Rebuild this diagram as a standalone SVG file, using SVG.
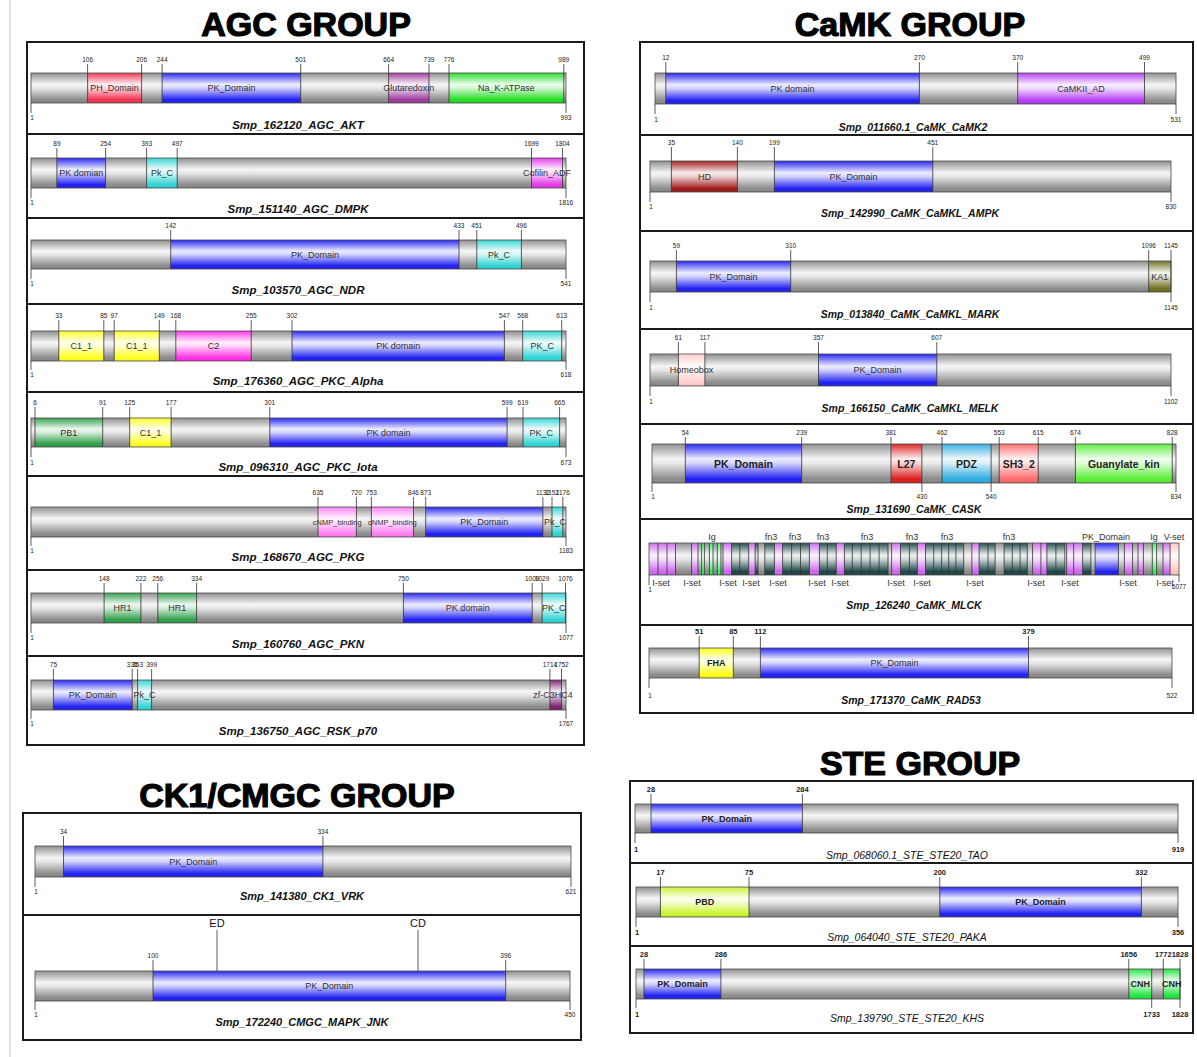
<svg xmlns="http://www.w3.org/2000/svg" width="1197" height="1057" viewBox="0 0 1197 1057">
<defs>
<linearGradient id="sh" x1="0" y1="0" x2="0" y2="1">
<stop offset="0" stop-color="#fff" stop-opacity="0.05"/>
<stop offset="0.38" stop-color="#fff" stop-opacity="0.92"/>
<stop offset="0.5" stop-color="#fff" stop-opacity="0.8"/>
<stop offset="0.9" stop-color="#fff" stop-opacity="0"/>
<stop offset="1" stop-color="#000" stop-opacity="0.12"/>
</linearGradient>
</defs>
<style>
text{font-family:"Liberation Sans",Arial,sans-serif}
.t{font-size:34px;font-weight:bold;text-anchor:middle;fill:#000;stroke:#000;stroke-width:1.2}
.n{font-size:6.5px;text-anchor:middle;fill:#222}
.n2{font-size:7.5px;font-weight:bold;text-anchor:middle;fill:#222}
.d{font-size:9px;text-anchor:middle;fill:#333}
.ds{font-size:7.5px;text-anchor:middle;fill:#333}
.db{font-size:9px;font-weight:bold;text-anchor:middle;fill:#222}
.dc{font-size:10.5px;font-weight:bold;text-anchor:middle;fill:#222}
.ec{font-size:11px;text-anchor:middle;fill:#111}
.nm{font-size:11.5px;font-weight:bold;font-style:italic;text-anchor:middle;fill:#111}
.nm2{font-size:10.5px;font-weight:bold;font-style:italic;text-anchor:middle;fill:#111}
.nm3{font-size:10.5px;font-style:italic;text-anchor:middle;fill:#111}
.bx{fill:none;stroke:#1a1a1a;stroke-width:2}
.bb{fill:#8a8a8a}
.sh{fill:url(#sh)}
.ol{fill:none;stroke:#4a4a4a;stroke-width:.8}
.tk{fill:none;stroke:#333;stroke-width:.8}
.pk{fill:#1e1ef2}.cy{fill:#2ed3d3}.ye{fill:#ffff1e}.mg{fill:#ff2de6}.pn{fill:#ff7df2}
.ph{fill:#f2304e}.gl{fill:#9c389c}.nk{fill:#20dc20}.cf{fill:#e238e8}.gn{fill:#2c9e48}
.zf{fill:#7c1e6e}.ca{fill:#b43af4}.hd{fill:#a01818}.ka{fill:#6e6e1e}.hx{fill:#ffcccc}
.l27{fill:#dc1e1e}.pdz{fill:#2eace0}.sh3{fill:#ff6a6a}.guk{fill:#58ee36}.fha{fill:#ffff10}
.pbd{fill:#cbf52e}.cnh{fill:#1ee43c}.is{fill:#cc66ee}.fn{fill:#1c4444}.ig{fill:#2cf05c}.vs{fill:#ffc4c4}
</style>
<rect width="1197" height="1057" fill="#fff"/>
<line x1="10" y1="0" x2="10" y2="1057" stroke="#c4c4c4" stroke-width="1"/>

<!-- Titles -->
<text class="t" x="306" y="36">AGC GROUP</text>
<text class="t" x="910" y="36">CaMK GROUP</text>
<text class="t" x="297" y="807">CK1/CMGC GROUP</text>
<text class="t" x="920" y="775">STE GROUP</text>

<!-- ================= AGC ================= -->
<g id="agc-box">
<rect class="bx" x="27" y="42" width="557" height="703"/>
<path class="bx" d="M27 134H584M27 218H584M27 304H584M27 392H584M27 476H584M27 570H584M27 656H584"/>
</g>

<g id="agc-akt">
<rect class="bb" x="31" y="73" width="535" height="30"/>
<rect class="ph" x="87.6" y="73" width="54" height="30"/>
<rect class="pk" x="162.1" y="73" width="138.6" height="30"/>
<rect class="gl" x="388.6" y="73" width="40.4" height="30"/>
<rect class="nk" x="449" y="73" width="114.8" height="30"/>
<rect class="sh" x="31" y="73" width="535" height="30"/>
<rect class="ol" x="31" y="73" width="535" height="30"/>
<path class="tk" d="M87.6 64V103M141.6 64V103M162.1 64V103M300.7 64V103M388.6 64V103M429 64V103M449 64V103M563.8 64V103M31 103V113M566 103V113"/>
<text class="n" x="87.6" y="62.3">106</text><text class="n" x="141.6" y="62.3">206</text><text class="n" x="162.1" y="62.3">244</text><text class="n" x="300.7" y="62.3">501</text><text class="n" x="388.6" y="62.3">664</text><text class="n" x="429" y="62.3">739</text><text class="n" x="449" y="62.3">776</text><text class="n" x="563.8" y="62.3">989</text>
<text class="n" x="32" y="120.3">1</text><text class="n" x="566" y="120.3">993</text>
<text class="d" x="114.6" y="91">PH_Domain</text><text class="d" x="231.4" y="91">PK_Domain</text><text class="d" x="408.8" y="91">Glutaredoxin</text><text class="d" x="506.4" y="91">Na_K-ATPase</text>
<text class="nm" x="298" y="129">Smp_162120_AGC_AKT</text>
</g>

<g id="agc-dmpk">
<rect class="bb" x="31" y="158" width="535" height="30"/>
<rect class="pk" x="56.9" y="158" width="48.7" height="30"/>
<rect class="cy" x="146.6" y="158" width="30.6" height="30"/>
<rect class="cf" x="531.5" y="158" width="31" height="30"/>
<rect class="sh" x="31" y="158" width="535" height="30"/>
<rect class="ol" x="31" y="158" width="535" height="30"/>
<path class="tk" d="M56.9 148V188M105.6 148V188M146.6 148V188M177.2 148V188M531.5 148V188M562.5 148V188M31 188V198M566 188V198"/>
<text class="n" x="56.9" y="146.3">89</text><text class="n" x="105.6" y="146.3">254</text><text class="n" x="146.6" y="146.3">393</text><text class="n" x="177.2" y="146.3">497</text><text class="n" x="531.5" y="146.3">1699</text><text class="n" x="562.5" y="146.3">1804</text>
<text class="n" x="32" y="205.3">1</text><text class="n" x="566" y="205.3">1816</text>
<text class="d" x="81.3" y="176">PK domian</text><text class="d" x="161.9" y="176">Pk_C</text><text class="d" x="547" y="176">Cofilin_ADF</text>
<text class="nm" x="298" y="213">Smp_151140_AGC_DMPK</text>
</g>

<g id="agc-ndr">
<rect class="bb" x="31" y="240" width="535" height="29"/>
<rect class="pk" x="170.7" y="240" width="288.3" height="29"/>
<rect class="cy" x="476.8" y="240" width="44.6" height="29"/>
<rect class="sh" x="31" y="240" width="535" height="29"/>
<rect class="ol" x="31" y="240" width="535" height="29"/>
<path class="tk" d="M170.7 230V269M459 230V269M476.8 230V269M521.4 230V269M31 269V279M566 269V279"/>
<text class="n" x="170.7" y="228.3">142</text><text class="n" x="459" y="228.3">433</text><text class="n" x="476.8" y="228.3">451</text><text class="n" x="521.4" y="228.3">496</text>
<text class="n" x="32" y="286.3">1</text><text class="n" x="566" y="286.3">541</text>
<text class="d" x="314.9" y="257.5">PK_Domain</text><text class="d" x="499.1" y="257.5">Pk_C</text>
<text class="nm" x="298" y="294">Smp_103570_AGC_NDR</text>
</g>

<g id="agc-pkc-alpha">
<rect class="bb" x="31" y="331" width="535" height="30"/>
<rect class="ye" x="58.8" y="331" width="45" height="30"/>
<rect class="ye" x="114.2" y="331" width="45.1" height="30"/>
<rect class="mg" x="175.8" y="331" width="75.4" height="30"/>
<rect class="pk" x="292" y="331" width="212.4" height="30"/>
<rect class="cy" x="522.7" y="331" width="39" height="30"/>
<rect class="sh" x="31" y="331" width="535" height="30"/>
<rect class="ol" x="31" y="331" width="535" height="30"/>
<path class="tk" d="M58.8 320V361M103.8 320V361M114.2 320V361M159.3 320V361M175.8 320V361M251.2 320V361M292 320V361M504.4 320V361M522.7 320V361M561.7 320V361M31 361V370M566 361V370"/>
<text class="n" x="58.8" y="318.3">33</text><text class="n" x="103.8" y="318.3">85</text><text class="n" x="114.2" y="318.3">97</text><text class="n" x="159.3" y="318.3">149</text><text class="n" x="175.8" y="318.3">168</text><text class="n" x="251.2" y="318.3">255</text><text class="n" x="292" y="318.3">302</text><text class="n" x="504.4" y="318.3">547</text><text class="n" x="522.7" y="318.3">568</text><text class="n" x="561.7" y="318.3">613</text>
<text class="n" x="32" y="377.3">1</text><text class="n" x="566" y="377.3">618</text>
<text class="d" x="81.3" y="349">C1_1</text><text class="d" x="136.8" y="349">C1_1</text><text class="d" x="213.5" y="349">C2</text><text class="d" x="398.2" y="349">PK domain</text><text class="d" x="542.2" y="349">PK_C</text>
<text class="nm" x="298" y="385">Smp_176360_AGC_PKC_Alpha</text>
</g>

<g id="agc-pkc-iota">
<rect class="bb" x="31" y="418" width="535" height="29"/>
<rect class="gn" x="35" y="418" width="67.7" height="29"/>
<rect class="ye" x="129.7" y="418" width="41.4" height="29"/>
<rect class="pk" x="269.8" y="418" width="237.3" height="29"/>
<rect class="cy" x="523" y="418" width="36.6" height="29"/>
<rect class="sh" x="31" y="418" width="535" height="29"/>
<rect class="ol" x="31" y="418" width="535" height="29"/>
<path class="tk" d="M35 407V447M102.7 407V447M129.7 407V447M171.1 407V447M269.8 407V447M507.1 407V447M523 407V447M559.6 407V447M31 447V457M566 447V457"/>
<text class="n" x="35" y="405.3">6</text><text class="n" x="102.7" y="405.3">91</text><text class="n" x="129.7" y="405.3">125</text><text class="n" x="171.1" y="405.3">177</text><text class="n" x="269.8" y="405.3">301</text><text class="n" x="507.1" y="405.3">599</text><text class="n" x="523" y="405.3">619</text><text class="n" x="559.6" y="405.3">665</text>
<text class="n" x="32" y="464.5">1</text><text class="n" x="566" y="464.5">673</text>
<text class="d" x="68.8" y="435.5">PB1</text><text class="d" x="150.4" y="435.5">C1_1</text><text class="d" x="388.5" y="435.5">PK domain</text><text class="d" x="541.3" y="435.5">PK_C</text>
<text class="nm" x="298" y="471">Smp_096310_AGC_PKC_Iota</text>
</g>

<g id="agc-pkg">
<rect class="bb" x="31" y="507" width="535" height="30"/>
<rect class="pn" x="318" y="507" width="38.4" height="30"/>
<rect class="pn" x="371.4" y="507" width="42.1" height="30"/>
<rect class="pk" x="425.7" y="507" width="117.2" height="30"/>
<rect class="cy" x="552" y="507" width="10.8" height="30"/>
<rect class="sh" x="31" y="507" width="535" height="30"/>
<rect class="ol" x="31" y="507" width="535" height="30"/>
<path class="tk" d="M318 497V537M356.4 497V537M371.4 497V537M413.5 497V537M425.7 497V537M542.9 497V537M552 497V537M562.8 497V537M31 537V546M566 537V546"/>
<text class="n" x="318" y="495.3">635</text><text class="n" x="356.4" y="495.3">720</text><text class="n" x="371.4" y="495.3">753</text><text class="n" x="413.5" y="495.3">846</text><text class="n" x="425.7" y="495.3">873</text><text class="n" x="542.9" y="495.3">1132</text><text class="n" x="552" y="495.3">1152</text><text class="n" x="562.8" y="495.3">1176</text>
<text class="n" x="32" y="553.3">1</text><text class="n" x="566" y="553.3">1183</text>
<text class="ds" x="337.2" y="524.5">cNMP_binding</text><text class="ds" x="392.4" y="524.5">cNMP_binding</text><text class="d" x="484.3" y="525">PK_Domain</text><text class="d" x="555" y="525">Pk_C</text>
<text class="nm" x="298" y="561">Smp_168670_AGC_PKG</text>
</g>

<g id="agc-pkn">
<rect class="bb" x="31" y="593" width="535" height="30"/>
<rect class="gn" x="104.1" y="593" width="36.8" height="30"/>
<rect class="gn" x="157.8" y="593" width="38.8" height="30"/>
<rect class="pk" x="403.4" y="593" width="128.8" height="30"/>
<rect class="cy" x="542.1" y="593" width="23.4" height="30"/>
<rect class="sh" x="31" y="593" width="535" height="30"/>
<rect class="ol" x="31" y="593" width="535" height="30"/>
<path class="tk" d="M104.1 583V623M140.9 583V623M157.8 583V623M196.6 583V623M403.4 583V623M532.2 583V623M542.1 583V623M565.5 583V623M31 623V633M566 623V633"/>
<text class="n" x="104.1" y="581.3">148</text><text class="n" x="140.9" y="581.3">222</text><text class="n" x="157.8" y="581.3">256</text><text class="n" x="196.6" y="581.3">334</text><text class="n" x="403.4" y="581.3">750</text><text class="n" x="532.2" y="581.3">1009</text><text class="n" x="542.1" y="581.3">1029</text><text class="n" x="565.5" y="581.3">1076</text>
<text class="n" x="32" y="640.3">1</text><text class="n" x="566" y="640.3">1077</text>
<text class="d" x="122.5" y="611">HR1</text><text class="d" x="177.2" y="611">HR1</text><text class="d" x="467.8" y="611">PK domain</text><text class="d" x="553.8" y="611">PK_C</text>
<text class="nm" x="298" y="648">Smp_160760_AGC_PKN</text>
</g>

<g id="agc-rsk-p70">
<rect class="bb" x="31" y="680" width="535" height="30"/>
<rect class="pk" x="53.4" y="680" width="78.8" height="30"/>
<rect class="cy" x="137.6" y="680" width="14" height="30"/>
<rect class="zf" x="549.9" y="680" width="11.6" height="30"/>
<rect class="sh" x="31" y="680" width="535" height="30"/>
<rect class="ol" x="31" y="680" width="535" height="30"/>
<path class="tk" d="M53.4 669V710M132.2 669V710M137.6 669V710M151.6 669V710M549.9 669V710M561.5 669V710M31 710V719M566 710V719"/>
<text class="n" x="53.4" y="667.3">75</text><text class="n" x="132.2" y="667.3">335</text><text class="n" x="137.6" y="667.3">353</text><text class="n" x="151.6" y="667.3">399</text><text class="n" x="549.9" y="667.3">1714</text><text class="n" x="561.5" y="667.3">1752</text>
<text class="n" x="32" y="726.3">1</text><text class="n" x="566" y="726.3">1767</text>
<text class="d" x="92.8" y="698">PK_Domain</text><text class="d" x="144.6" y="698">Pk_C</text><text class="d" x="553" y="698">zf-C3HC4</text>
<text class="nm" x="298" y="735">Smp_136750_AGC_RSK_p70</text>
</g>

<!-- ================= CaMK ================= -->
<g id="camk-box">
<rect class="bx" x="640" y="42" width="553" height="671"/>
<path class="bx" d="M640 135H1193M640 231H1193M640 329H1193M640 424H1193M640 519H1193M640 625H1193"/>
</g>

<g id="camk-camk2">
<rect class="bb" x="655" y="73" width="521" height="31"/>
<rect class="pk" x="665.8" y="73" width="253.6" height="31"/>
<rect class="ca" x="1017.7" y="73" width="126.8" height="31"/>
<rect class="sh" x="655" y="73" width="521" height="31"/>
<rect class="ol" x="655" y="73" width="521" height="31"/>
<path class="tk" d="M665.8 62V104M919.4 62V104M1017.7 62V104M1144.5 62V104M655 104V114M1176 104V114"/>
<text class="n" x="665.8" y="60.3">12</text><text class="n" x="919.4" y="60.3">270</text><text class="n" x="1017.7" y="60.3">370</text><text class="n" x="1144.5" y="60.3">499</text>
<text class="n" x="656" y="122.3">1</text><text class="n" x="1176" y="122.3">531</text>
<text class="d" x="792.6" y="91.5">PK domain</text><text class="d" x="1081.1" y="91.5">CaMKII_AD</text>
<text class="nm2" x="913" y="131">Smp_011660.1_CaMK_CaMK2</text>
</g>

<g id="camk-ampk">
<rect class="bb" x="650" y="161" width="521" height="31"/>
<rect class="hd" x="671.4" y="161" width="66" height="31"/>
<rect class="pk" x="774.4" y="161" width="158.4" height="31"/>
<rect class="sh" x="650" y="161" width="521" height="31"/>
<rect class="ol" x="650" y="161" width="521" height="31"/>
<path class="tk" d="M671.4 147V192M737.4 147V192M774.4 147V192M932.8 147V192M650 192V202M1171 192V202"/>
<text class="n" x="671.4" y="145.3">35</text><text class="n" x="737.4" y="145.3">140</text><text class="n" x="774.4" y="145.3">199</text><text class="n" x="932.8" y="145.3">451</text>
<text class="n" x="651" y="209.3">1</text><text class="n" x="1171" y="209.3">830</text>
<text class="d" x="704.4" y="179.5">HD</text><text class="d" x="853.6" y="179.5">PK_Domain</text>
<text class="nm2" x="910" y="217">Smp_142990_CaMK_CaMKL_AMPK</text>
</g>

<g id="camk-mark">
<rect class="bb" x="650" y="261" width="521" height="31"/>
<rect class="pk" x="676.4" y="261" width="114.3" height="31"/>
<rect class="ka" x="1148.7" y="261" width="22.3" height="31"/>
<rect class="sh" x="650" y="261" width="521" height="31"/>
<rect class="ol" x="650" y="261" width="521" height="31"/>
<path class="tk" d="M676.4 250V292M790.7 250V292M1148.7 250V292M1171 250V292M650 292V302M1171 292V302"/>
<text class="n" x="676.4" y="248.3">59</text><text class="n" x="790.7" y="248.3">310</text><text class="n" x="1148.7" y="248.3">1096</text><text class="n" x="1171" y="248.3">1145</text>
<text class="n" x="651" y="310.3">1</text><text class="n" x="1171" y="310.3">1145</text>
<text class="d" x="733.6" y="279.5">PK_Domain</text><text class="d" x="1159.8" y="279.5">KA1</text>
<text class="nm2" x="910" y="318">Smp_013840_CaMK_CaMKL_MARK</text>
</g>

<g id="camk-melk">
<rect class="bb" x="650" y="354" width="521" height="32"/>
<rect class="hx" x="678.4" y="354" width="26.5" height="32"/>
<rect class="pk" x="818.5" y="354" width="118.3" height="32"/>
<rect class="sh" x="650" y="354" width="521" height="32"/>
<rect class="ol" x="650" y="354" width="521" height="32"/>
<path class="tk" d="M678.4 342V386M704.9 342V386M818.5 342V386M936.8 342V386M650 386V396M1171 386V396"/>
<text class="n" x="678.4" y="340.3">61</text><text class="n" x="704.9" y="340.3">117</text><text class="n" x="818.5" y="340.3">357</text><text class="n" x="936.8" y="340.3">607</text>
<text class="n" x="651" y="404.3">1</text><text class="n" x="1171" y="404.3">1102</text>
<text class="d" x="691.6" y="373">Homeobox</text><text class="d" x="877.6" y="373">PK_Domain</text>
<text class="nm2" x="910" y="412">Smp_166150_CaMK_CaMKL_MELK</text>
</g>

<g id="camk-cask">
<rect class="bb" x="652" y="444" width="524" height="39"/>
<rect class="pk" x="685.3" y="444" width="116.4" height="39"/>
<rect class="l27" x="891" y="444" width="30.9" height="39"/>
<rect class="pdz" x="942" y="444" width="49.1" height="39"/>
<rect class="sh3" x="999.2" y="444" width="39" height="39"/>
<rect class="guk" x="1075.4" y="444" width="96.8" height="39"/>
<rect class="sh" x="652" y="444" width="524" height="39"/>
<rect class="ol" x="652" y="444" width="524" height="39"/>
<path class="tk" d="M685.3 437V483M801.7 437V483M891 437V483M942 437V483M999.2 437V483M1038.2 437V483M1075.4 437V483M1172.2 437V483M921.9 444V492M991.1 444V492M652 483V492M1176 483V492"/>
<text class="n" x="685.3" y="435.3">54</text><text class="n" x="801.7" y="435.3">239</text><text class="n" x="891" y="435.3">381</text><text class="n" x="942" y="435.3">462</text><text class="n" x="999.2" y="435.3">553</text><text class="n" x="1038.2" y="435.3">615</text><text class="n" x="1075.4" y="435.3">674</text><text class="n" x="1172.2" y="435.3">828</text>
<text class="n" x="653" y="499.3">1</text><text class="n" x="921.9" y="499.3">430</text><text class="n" x="991.1" y="499.3">540</text><text class="n" x="1176" y="499.3">834</text>
<text class="dc" x="743.5" y="467.5">PK_Domain</text><text class="dc" x="906.4" y="467.5">L27</text><text class="dc" x="966.5" y="467.5">PDZ</text><text class="dc" x="1018.7" y="467.5">SH3_2</text><text class="dc" x="1123.8" y="467.5">Guanylate_kin</text>
<text class="nm2" x="914" y="513">Smp_131690_CaMK_CASK</text>
</g>

<g id="camk-mlck">
<rect class="bb" x="649" y="543" width="530" height="32"/>
<g class="is">
<rect x="649" y="543" width="9" height="32"/><rect x="658" y="543" width="9" height="32"/><rect x="667" y="543" width="8.5" height="32"/><rect x="691.6" y="543" width="6.4" height="32"/><rect x="723" y="543" width="8.6" height="32"/><rect x="748.7" y="543" width="6.4" height="32"/><rect x="774.4" y="543" width="8.2" height="32"/><rect x="809.4" y="543" width="10" height="32"/><rect x="836.2" y="543" width="8.2" height="32"/><rect x="891.6" y="543" width="8.9" height="32"/><rect x="917.3" y="543" width="8.2" height="32"/><rect x="971.9" y="543" width="7.2" height="32"/><rect x="1032.6" y="543" width="8.3" height="32"/><rect x="1040.9" y="543" width="6" height="32"/><rect x="1066.6" y="543" width="7.1" height="32"/><rect x="1073.7" y="543" width="8.9" height="32"/><rect x="1124.4" y="543" width="8.2" height="32"/><rect x="1138" y="543" width="5.4" height="32"/><rect x="1163" y="543" width="7.1" height="32"/>
</g>
<g class="ig">
<rect x="701.6" y="543" width="2.8" height="32"/><rect x="709.4" y="543" width="3.6" height="32"/><rect x="717.3" y="543" width="3.6" height="32"/><rect x="1152.3" y="543" width="4.3" height="32"/>
</g>
<g class="fn">
<rect x="731.6" y="543" width="17.1" height="32"/><rect x="755.1" y="543" width="2.9" height="32"/><rect x="764.8" y="543" width="9.6" height="32"/><rect x="782.6" y="543" width="26.8" height="32"/><rect x="819.4" y="543" width="16.8" height="32"/><rect x="844.4" y="543" width="43.6" height="32"/><rect x="900.5" y="543" width="16.8" height="32"/><rect x="925.5" y="543" width="38.2" height="32"/><rect x="979.1" y="543" width="16" height="32"/><rect x="1004.1" y="543" width="23.2" height="32"/><rect x="1046.9" y="543" width="17.9" height="32"/><rect x="1082.6" y="543" width="8.3" height="32"/>
</g>
<rect class="pk" x="1095.1" y="543" width="23.3" height="32"/>
<rect class="vs" x="1170.1" y="543" width="8.9" height="32"/>
<rect class="sh" x="649" y="543" width="530" height="32"/>
<rect class="ol" x="649" y="543" width="530" height="32"/>
<path class="tk" d="M658 543V575M667 543V575M675.5 543V575M691.6 543V575M698 543V575M701.6 543V575M704.4 543V575M709.4 543V575M713 543V575M717.3 543V575M720.9 543V575M723 543V575M731.6 543V575M739.8 543V575M748.7 543V575M755.1 543V575M758 543V575M764.8 543V575M774.4 543V575M782.6 543V575M791.6 543V575M800.5 543V575M809.4 543V575M819.4 543V575M827.3 543V575M836.2 543V575M844.4 543V575M852.3 543V575M861.2 543V575M870.1 543V575M879.1 543V575M888 543V575M891.6 543V575M900.5 543V575M909.4 543V575M917.3 543V575M925.5 543V575M933.7 543V575M941.6 543V575M948.7 543V575M955.9 543V575M963.7 543V575M971.9 543V575M979.1 543V575M988 543V575M995.1 543V575M1004.1 543V575M1012.3 543V575M1020.1 543V575M1027.3 543V575M1032.6 543V575M1040.9 543V575M1046.9 543V575M1055.9 543V575M1064.8 543V575M1066.6 543V575M1073.7 543V575M1082.6 543V575M1090.9 543V575M1095.1 543V575M1118.4 543V575M1124.4 543V575M1132.6 543V575M1138 543V575M1143.4 543V575M1152.3 543V575M1156.6 543V575M1163 543V575M1170.1 543V575M649 575V585M1179 575V582"/>
<text class="d" x="712" y="540">Ig</text><text class="d" x="771" y="540">fn3</text><text class="d" x="795" y="540">fn3</text><text class="d" x="823" y="540">fn3</text><text class="d" x="867" y="540">fn3</text><text class="d" x="912" y="540">fn3</text><text class="d" x="947" y="540">fn3</text><text class="d" x="1009" y="540">fn3</text><text class="d" x="1106" y="540">PK_Domain</text><text class="d" x="1154" y="540">Ig</text><text class="d" x="1174" y="540">V-set</text>
<text class="d" x="661" y="586">I-set</text><text class="d" x="692" y="586">I-set</text><text class="d" x="728" y="586">I-set</text><text class="d" x="751" y="586">I-set</text><text class="d" x="778" y="586">I-set</text><text class="d" x="817" y="586">I-set</text><text class="d" x="840" y="586">I-set</text><text class="d" x="896" y="586">I-set</text><text class="d" x="922" y="586">I-set</text><text class="d" x="975" y="586">I-set</text><text class="d" x="1036" y="586">I-set</text><text class="d" x="1070" y="586">I-set</text><text class="d" x="1128" y="586">I-set</text><text class="d" x="1165" y="586">I-set</text>
<text class="n" x="650" y="592">1</text><text class="n" x="1179" y="589">6077</text>
<text class="nm2" x="914" y="609">Smp_126240_CaMK_MLCK</text>
</g>

<g id="camk-rad53">
<rect class="bb" x="649" y="648" width="523" height="30"/>
<rect class="fha" x="699.2" y="648" width="34.1" height="30"/>
<rect class="pk" x="760.4" y="648" width="268.1" height="30"/>
<rect class="sh" x="649" y="648" width="523" height="30"/>
<rect class="ol" x="649" y="648" width="523" height="30"/>
<path class="tk" d="M699.2 636V678M733.3 636V678M760.4 636V678M1028.5 636V678M649 678V688M1172 678V688"/>
<text class="n2" x="699.2" y="633.5">51</text><text class="n2" x="733.3" y="633.5">85</text><text class="n2" x="760.4" y="633.5">112</text><text class="n2" x="1028.5" y="633.5">379</text>
<text class="n" x="650" y="697.5">1</text><text class="n" x="1172" y="697.5">522</text>
<text class="db" x="716.3" y="666">FHA</text><text class="d" x="894.4" y="666">PK_Domain</text>
<text class="nm2" x="911" y="704">Smp_171370_CaMK_RAD53</text>
</g>

<!-- ================= CK1/CMGC ================= -->
<g id="ck1-box">
<rect class="bx" x="23" y="813" width="558" height="227"/>
<path class="bx" d="M23 915H581"/>
</g>

<g id="ck1-vrk">
<rect class="bb" x="35" y="846" width="536" height="31"/>
<rect class="pk" x="63.5" y="846" width="259.4" height="31"/>
<rect class="sh" x="35" y="846" width="536" height="31"/>
<rect class="ol" x="35" y="846" width="536" height="31"/>
<path class="tk" d="M63.5 836V877M322.9 836V877M35 877V887M571 877V887"/>
<text class="n" x="63.5" y="834.3">34</text><text class="n" x="322.9" y="834.3">334</text>
<text class="n" x="36" y="894.3">1</text><text class="n" x="571" y="894.3">621</text>
<text class="d" x="193.2" y="864.5">PK_Domain</text>
<text class="nm" x="302" y="900" style="font-size:11px">Smp_141380_CK1_VRK</text>
</g>

<g id="cmgc-jnk">
<rect class="bb" x="35" y="971" width="535" height="30"/>
<rect class="pk" x="153" y="971" width="352.7" height="30"/>
<rect class="sh" x="35" y="971" width="535" height="30"/>
<rect class="ol" x="35" y="971" width="535" height="30"/>
<path class="tk" d="M153 960V1001M505.7 960V1001M217 930V971M418 930V971M35 1001V1010M570 1001V1010"/>
<text class="ec" x="217" y="927">ED</text><text class="ec" x="418" y="927">CD</text>
<text class="n" x="153" y="958.3">100</text><text class="n" x="505.7" y="958.3">396</text>
<text class="n" x="36" y="1017.3">1</text><text class="n" x="570" y="1017.3">450</text>
<text class="d" x="329.3" y="989">PK_Domain</text>
<text class="nm" x="302" y="1026" style="font-size:11px">Smp_172240_CMGC_MAPK_JNK</text>
</g>

<!-- ================= STE ================= -->
<g id="ste-box">
<rect class="bx" x="630" y="781" width="563" height="252"/>
<path class="bx" d="M630 863H1193M630 946H1193"/>
</g>

<g id="ste-tao">
<rect class="bb" x="635" y="804" width="543" height="29"/>
<rect class="pk" x="651" y="804" width="151.4" height="29"/>
<rect class="sh" x="635" y="804" width="543" height="29"/>
<rect class="ol" x="635" y="804" width="543" height="29"/>
<path class="tk" d="M651 794V833M802.4 794V833M635 833V843M1178 833V843"/>
<text class="n2" x="651" y="791.5">28</text><text class="n2" x="802.4" y="791.5">284</text>
<text class="n2" x="636" y="851.5">1</text><text class="n2" x="1178" y="851.5">919</text>
<text class="db" x="726.7" y="821.5">PK_Domain</text>
<text class="nm3" x="907" y="859">Smp_068060.1_STE_STE20_TAO</text>
</g>

<g id="ste-paka">
<rect class="bb" x="636" y="887" width="542" height="30"/>
<rect class="pbd" x="660.4" y="887" width="88.6" height="30"/>
<rect class="pk" x="939.8" y="887" width="201.6" height="30"/>
<rect class="sh" x="636" y="887" width="542" height="30"/>
<rect class="ol" x="636" y="887" width="542" height="30"/>
<path class="tk" d="M660.4 877V917M749 877V917M939.8 877V917M1141.4 877V917M636 917V927M1178 917V927"/>
<text class="n2" x="660.4" y="874.5">17</text><text class="n2" x="749" y="874.5">75</text><text class="n2" x="939.8" y="874.5">200</text><text class="n2" x="1141.4" y="874.5">332</text>
<text class="n2" x="637" y="934.5">1</text><text class="n2" x="1178" y="934.5">356</text>
<text class="db" x="704.7" y="905">PBD</text><text class="db" x="1040.6" y="905">PK_Domain</text>
<text class="nm3" x="907" y="941">Smp_064040_STE_STE20_PAKA</text>
</g>

<g id="ste-khs">
<rect class="bb" x="636" y="969" width="544" height="30"/>
<rect class="pk" x="644" y="969" width="76.9" height="30"/>
<rect class="cnh" x="1128.8" y="969" width="22.9" height="30"/>
<rect class="cnh" x="1163.3" y="969" width="16.7" height="30"/>
<rect class="sh" x="636" y="969" width="544" height="30"/>
<rect class="ol" x="636" y="969" width="544" height="30"/>
<path class="tk" d="M644 959V999M720.9 959V999M1128.8 959V999M1163.3 959V999M1180 959V1008M1151.7 969V1008M636 999V1008"/>
<text class="n2" x="644" y="956.5">28</text><text class="n2" x="720.9" y="956.5">286</text><text class="n2" x="1128.8" y="956.5">1656</text><text class="n2" x="1163.3" y="956.5">1772</text><text class="n2" x="1180" y="956.5">1828</text>
<text class="n2" x="637" y="1016.5">1</text><text class="n2" x="1151.7" y="1016.5">1733</text><text class="n2" x="1180" y="1016.5">1828</text>
<text class="db" x="682.4" y="987">PK_Domain</text><text class="db" x="1140.3" y="987">CNH</text><text class="db" x="1171.7" y="987">CNH</text>
<text class="nm3" x="907" y="1022">Smp_139790_STE_STE20_KHS</text>
</g>
</svg>
